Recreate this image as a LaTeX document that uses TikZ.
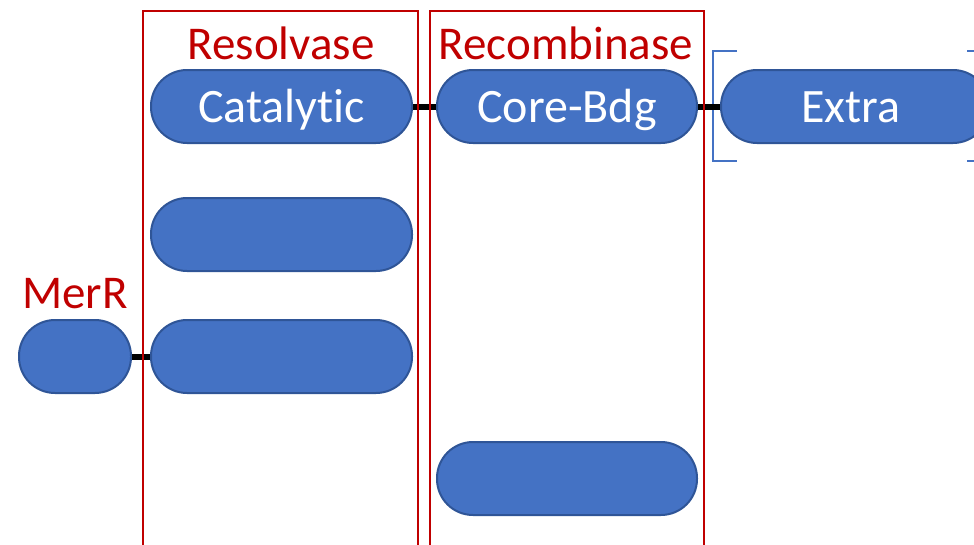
\documentclass[tikz,border=0pt]{standalone}
\usepackage{fontspec}
\setmainfont{Carlito}[Ligatures={NoCommon}]
\definecolor{pillfill}{HTML}{4472C4}
\definecolor{pilledge}{HTML}{2F5597}
\definecolor{boxred}{HTML}{C00000}
\begin{document}
\begin{tikzpicture}[x=1pt,y=-1pt,
  pilltext/.style={text=white, font=\fontsize{48}{52}\selectfont, text height=31pt, text depth=0pt},
  pill/.style={draw=pilledge, fill=pillfill, line width=2pt, rectangle, rounded corners=36pt,
    minimum height=73pt, inner sep=0pt, pilltext},
  conn/.style={draw=black, line width=6pt},
  redbox/.style={draw=boxred, line width=2.7pt},
  redlabel/.style={text=boxred, font=\fontsize{47}{51}\selectfont, inner sep=0pt, anchor=base},
  bracketline/.style={draw=pillfill, line width=1.2pt}]
\useasboundingbox (0,0) rectangle (974,544);
% labels
\node[redlabel] (resolv) at (281,59) {Resolvase};
\node[redlabel] (recomb) at (566,59) {Recombinase};
\node[redlabel] (merr) at (75,308) {MerR};
% brackets
\draw[bracketline] (737,51) -- (713,51) -- (713,161) -- (737,161);
\draw[bracketline] (967,51) -- (995,51) -- (995,161) -- (967,161);
% pills
\node[pill, minimum width=261pt] (cat) at (281.5,106.5) {Catalytic};
\node[pill, minimum width=260pt] (core) at (567,106.5) {Core-Bdg};
\node[pill, minimum width=268pt] (extra) at (855,106.5) {};
\node[pilltext, inner sep=0pt] (extratext) at (851,106.5) {Extra};
\node[pill, minimum width=261pt] (res2) at (281.5,234.5) {};
\node[pill, minimum width=261pt] (res3) at (281.5,356.5) {};
\node[pill, minimum width=112pt] (merrpill) at (75,356.5) {};
\node[pill, minimum width=260pt] (rec2) at (567,478.5) {};
% connectors
\draw[conn] (cat.east) -- (core.west);
\draw[conn] (core.east) -- (extra.west);
\draw[conn] (merrpill.east) -- (res3.west);
% red group boxes (on top of connectors)
\draw[redbox] (143,570) -- (143,11) -- (418,11) -- (418,570);
\draw[redbox] (430,570) -- (430,11) -- (704,11) -- (704,570);
\end{tikzpicture}
\end{document}
